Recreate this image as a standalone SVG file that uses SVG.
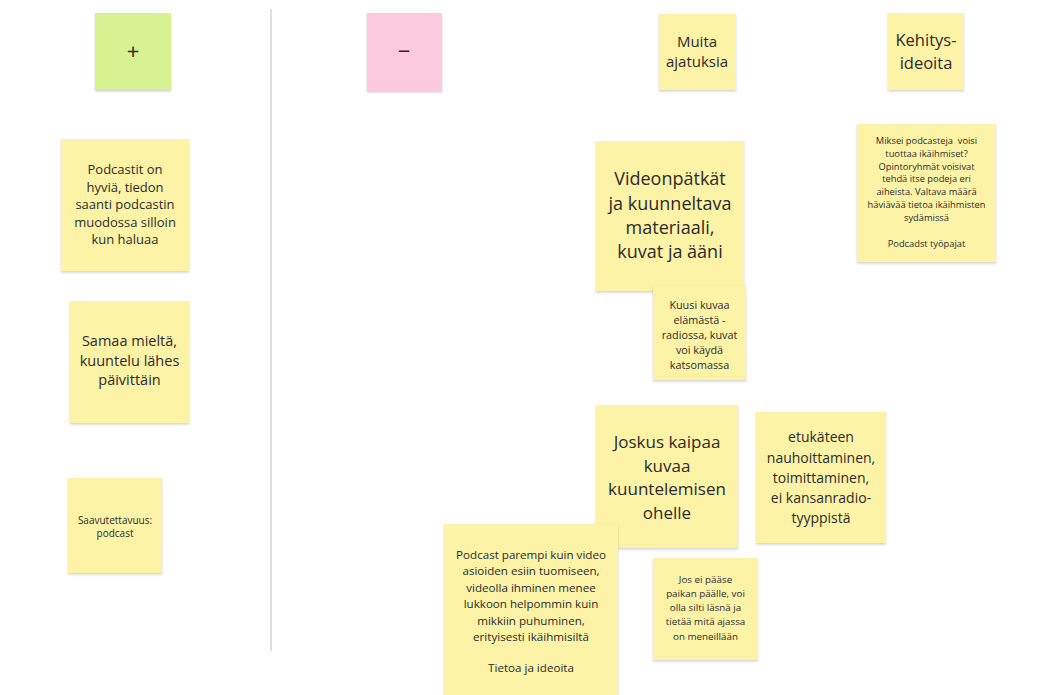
<svg xmlns="http://www.w3.org/2000/svg" width="1050" height="695" viewBox="0 0 1050 695">
  <defs>
    <filter id="lift" x="-10%" y="-10%" width="120%" height="125%">
      <feDropShadow dx="0" dy="1.5" stdDeviation="1.2" flood-color="#000" flood-opacity="0.18"/>
    </filter>
  </defs>
  <style>
    .note { fill: #fdf3a7; filter: url(#lift); }
    .plus { fill: #d6f291; filter: url(#lift); }
    .minus { fill: #fdc9dc; filter: url(#lift); }
    text { font-family: "Open Sans", "Noto Sans", "Liberation Sans", sans-serif; fill: #2b2b2b; text-anchor: middle; }
    .divider { stroke: #d4d4d4; stroke-width: 1.5; fill: none; }
  </style>
  <rect width="1050" height="695" fill="#ffffff"/>

  <g id="connectors">
    <line class="divider" x1="271" y1="9" x2="271" y2="651"/>
  </g>

  <!-- column headers -->
  <g id="header-plus">
    <rect class="plus" x="95" y="13" width="76" height="77"/>
    <text x="133" y="59" font-size="22">+</text>
  </g>
  <g id="header-minus">
    <rect class="minus" x="367" y="13" width="75" height="78"/>
    <text x="404" y="59" font-size="22">−</text>
  </g>
  <g id="header-muita">
    <rect class="note" x="659" y="14" width="77" height="76"/>
    <text x="697" font-size="15"><tspan x="697" y="47">Muita</tspan><tspan x="697" y="67">ajatuksia</tspan></text>
  </g>
  <g id="header-kehitys">
    <rect class="note" x="888" y="13" width="76" height="77"/>
    <text x="926" font-size="16.5"><tspan x="926" y="46">Kehitys-</tspan><tspan x="926" y="69">ideoita</tspan></text>
  </g>

  <!-- plus column -->
  <g id="note-podcastit">
    <rect class="note" x="61" y="139" width="128" height="132"/>
    <text font-size="13"><tspan x="125" y="174">Podcastit on</tspan><tspan x="125" y="191.5">hyviä, tiedon</tspan><tspan x="125" y="209">saanti podcastin</tspan><tspan x="125" y="226.5">muodossa silloin</tspan><tspan x="125" y="244">kun haluaa</tspan></text>
  </g>
  <g id="note-samaa">
    <rect class="note" x="70" y="301" width="119" height="122"/>
    <text font-size="14.5"><tspan x="129.5" y="346">Samaa mieltä,</tspan><tspan x="129.5" y="365.5">kuuntelu lähes</tspan><tspan x="129.5" y="385">päivittäin</tspan></text>
  </g>
  <g id="note-saavutettavuus">
    <rect class="note" x="68" y="478" width="94" height="95"/>
    <text font-size="10"><tspan x="115" y="524">Saavutettavuus:</tspan><tspan x="115" y="537">podcast</tspan></text>
  </g>

  <!-- muita ajatuksia column -->
  <g id="note-videonpatkat">
    <rect class="note" x="596" y="141" width="148" height="150"/>
    <text font-size="18"><tspan x="670" y="185">Videonpätkät</tspan><tspan x="670" y="209.5">ja kuunneltava</tspan><tspan x="670" y="234">materiaali,</tspan><tspan x="670" y="258">kuvat ja ääni</tspan></text>
  </g>
  <g id="note-kuusi">
    <rect class="note" x="653" y="286" width="93" height="94"/>
    <text font-size="10.8"><tspan x="699.5" y="309">Kuusi kuvaa</tspan><tspan x="699.5" y="324">elämästä -</tspan><tspan x="699.5" y="339">radiossa, kuvat</tspan><tspan x="699.5" y="354">voi käydä</tspan><tspan x="699.5" y="369">katsomassa</tspan></text>
  </g>
  <g id="note-joskus">
    <rect class="note" x="596" y="405" width="142" height="143"/>
    <text font-size="17"><tspan x="667" y="448">Joskus kaipaa</tspan><tspan x="667" y="471.5">kuvaa</tspan><tspan x="667" y="495">kuuntelemisen</tspan><tspan x="667" y="518.5">ohelle</tspan></text>
  </g>
  <g id="note-etukateen">
    <rect class="note" x="756" y="412" width="130" height="131"/>
    <text font-size="14"><tspan x="821" y="442">etukäteen</tspan><tspan x="821" y="462.5">nauhoittaminen,</tspan><tspan x="821" y="482.5">toimittaminen,</tspan><tspan x="821" y="502.5">ei kansanradio-</tspan><tspan x="821" y="522.5">tyyppistä</tspan></text>
  </g>
  <g id="note-podcast-parempi">
    <rect class="note" x="444" y="524" width="174" height="171"/>
    <text font-size="11.6"><tspan x="531" y="558.6">Podcast parempi kuin video</tspan><tspan x="531" y="575">asioiden esiin tuomiseen,</tspan><tspan x="531" y="591.5">videolla ihminen menee</tspan><tspan x="531" y="608">lukkoon helpommin kuin</tspan><tspan x="531" y="624.5">mikkiin puhuminen,</tspan><tspan x="531" y="641">erityisesti ikäihmisiltä</tspan><tspan x="531" y="672">Tietoa ja ideoita</tspan></text>
  </g>
  <g id="note-jos-ei">
    <rect class="note" x="653" y="558" width="105" height="102"/>
    <text font-size="9.8"><tspan x="705.5" y="583">Jos ei pääse</tspan><tspan x="705.5" y="597">paikan päälle, voi</tspan><tspan x="705.5" y="611">olla silti läsnä ja</tspan><tspan x="705.5" y="625">tietää mitä ajassa</tspan><tspan x="705.5" y="639.5">on meneillään</tspan></text>
  </g>

  <!-- kehitysideoita column -->
  <g id="note-miksei">
    <rect class="note" x="857" y="124" width="139" height="138"/>
    <text font-size="9.3"><tspan x="926.5" y="144">Miksei podcasteja&#160; voisi</tspan><tspan x="926.5" y="156.8">tuottaa ikäihmiset?</tspan><tspan x="926.5" y="169.6">Opintoryhmät voisivat</tspan><tspan x="926.5" y="182.4">tehdä itse podeja eri</tspan><tspan x="926.5" y="195.2">aiheista. Valtava määrä</tspan><tspan x="926.5" y="208">häviävää tietoa ikäihmisten</tspan><tspan x="926.5" y="220.8">sydämissä</tspan><tspan x="926.5" y="246.5">Podcadst työpajat</tspan></text>
  </g>
</svg>
